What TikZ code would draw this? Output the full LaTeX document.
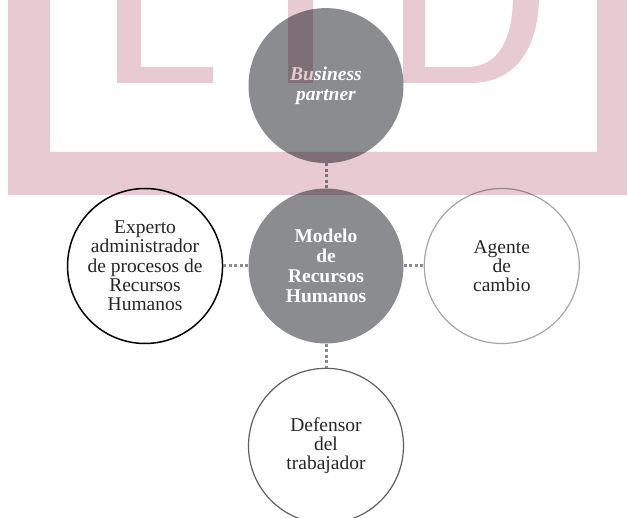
\documentclass[tikz,border=0pt]{standalone}
\usepackage{fontspec}
\setmainfont{Liberation Serif}
\usetikzlibrary{positioning}
\definecolor{rosa}{RGB}{232,203,210}
\definecolor{gris}{RGB}{139,140,144}
\definecolor{punteo}{RGB}{138,138,143}
\definecolor{grisclaro}{RGB}{165,165,170}
\definecolor{grisoscuro}{RGB}{95,95,98}
\tikzset{
  rol/.style={circle, minimum size=155pt, inner sep=0pt, align=center,
    text=black!85, font=\fontsize{19.5}{19.3}\selectfont},
  lleno/.style={rol, fill=gris, text=white, font=\fontsize{19.5}{20}\selectfont\bfseries},
  enlace/.style={draw=punteo, line width=3pt, dash pattern=on 3pt off 2.5pt}
}
\begin{document}
\begin{tikzpicture}[x=1pt,y=1pt]
\useasboundingbox (0,0) rectangle (627,-518);
\clip (0,0) rectangle (627,-518);
\node[lleno] (modelo) at (326,-266) {Modelo\\de\\Recursos\\Humanos};
\node[lleno, above=25pt of modelo, font=\fontsize{19.5}{20}\selectfont\bfseries\itshape] (partner) {Business\\partner};
\node[rol, draw=black, line width=1.5pt, left=25pt of modelo] (experto)
  {Experto\\administrador\\de procesos de\\Recursos\\Humanos};
\node[rol, draw=grisclaro, line width=1.2pt, right=20pt of modelo] (agente) {Agente\\de\\cambio};
\node[rol, draw=grisoscuro, line width=1.2pt, below=24pt of modelo] (defensor) {Defensor\\del\\trabajador};
\draw[enlace] (partner) -- (modelo);
\draw[enlace] (experto) -- (modelo);
\draw[enlace] (modelo) -- (agente);
\draw[enlace] (modelo) -- (defensor);
\begin{scope}[blend mode=multiply]
\fill[rosa] (8,5) -- (8,-195) -- (632,-195) -- (632,5) -- (597,5) -- (597,-152)
  -- (50,-152) -- (50,5) -- cycle;
\fill[rosa] (117,5) -- (117,-83) -- (213,-83) -- (213,-67) -- (141,-67) -- (141,5) -- cycle;
\fill[rosa] (288,5) rectangle (313,-83);
\fill[rosa] (403,5) -- (403,-83) -- (470,-83) .. controls (516,-83) and (539,-48) .. (539,5)
  -- (513,5) .. controls (513,-42) and (497,-67) .. (467,-67) -- (425,-67) -- (425,5) -- cycle;
\end{scope}
\end{tikzpicture}
\end{document}
